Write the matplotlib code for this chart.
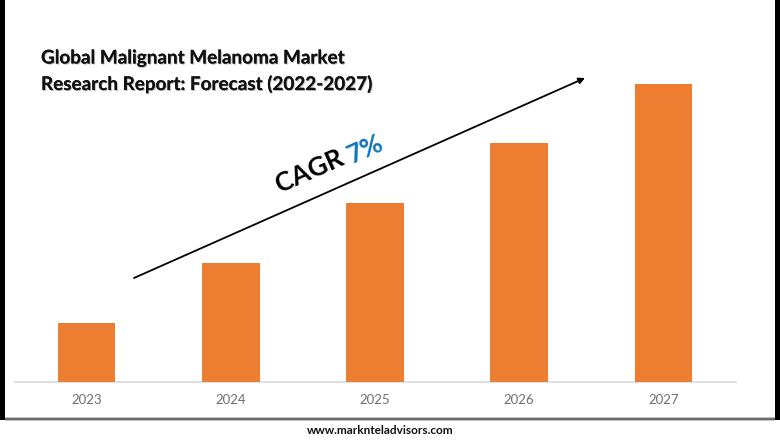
import matplotlib
matplotlib.use("Agg")
import matplotlib.pyplot as plt
import matplotlib.patheffects as pe
from matplotlib.patches import Rectangle

years = ["2023", "2024", "2025", "2026", "2027"]
values = [1.0, 2.02, 3.03, 4.05, 5.05]
title_lines = ["Global Malignant Melanoma Market", "Research Report: Forecast (2022-2027)"]
source = "www.marknteladvisors.com"

W, H = 780, 440
plt.rcParams["font.family"] = ["Lato", "DejaVu Sans"]
fig = plt.figure(figsize=(W / 100, H / 100), dpi=100, facecolor="white")

# chart axes: baseline at y=382 px, spans x=14.5..735.5 px
ax = fig.add_axes([14.5 / W, (H - 382) / H, 721 / W, 322 / H])
ax.bar(years, values, width=0.4, color="#ED7D31", zorder=3)
ax.set_xlim(-0.5, 4.5)
ax.set_ylim(0, 322 / 59)
ax.set_yticks([])
for s in ["top", "left", "right"]:
    ax.spines[s].set_visible(False)
ax.spines["bottom"].set_color("#D9D9D9")
ax.spines["bottom"].set_linewidth(1.2)
ax.tick_params(axis="x", length=0, pad=8.3, labelsize=9.5, labelcolor="#6E6E6E")
ax.patch.set_alpha(0)

# overlay in pixel coordinates
ov = fig.add_axes([0, 0, 1, 1], facecolor="none")
ov.set_xlim(0, W)
ov.set_ylim(H, 0)
ov.axis("off")

shadow = [pe.withSimplePatchShadow(offset=(0.7, -0.7), shadow_rgbFace="#888888", alpha=0.6), pe.Normal()]
ov.text(41, 58, title_lines[0], fontsize=13.6, fontweight="bold", color="#111111", va="center", ha="left", path_effects=shadow)
ov.text(41, 84, title_lines[1], fontsize=13.6, fontweight="bold", color="#111111", va="center", ha="left", path_effects=shadow)

ov.annotate("", xy=(585, 78), xytext=(134, 278),
            arrowprops=dict(arrowstyle="-|>", color="black", lw=1.3, mutation_scale=9, shrinkA=0, shrinkB=0))

ov.text(310, 171, "CAGR", fontsize=19, fontweight="bold", color="black", rotation=24,
        rotation_mode="anchor", ha="center", va="center")
ov.text(365, 149, "7%", fontsize=19, fontweight="bold", color="#0F75BC", rotation=24,
        rotation_mode="anchor", ha="center", va="center")

ov.text(380, 431, source, fontsize=8.5, fontweight="bold", color="#111111", ha="center", va="center")

# frame of the picture
ov.add_patch(Rectangle((0, 0), 5, 420, color="black", lw=0))
ov.add_patch(Rectangle((775, 0), 5, 420, color="black", lw=0))
ov.add_patch(Rectangle((5, 417), 770, 4, color="#C4C4C4", lw=0))
ov.add_patch(Rectangle((5, 418), 770, 2, color="#6A6A6A", lw=0))

fig.savefig("out.png", dpi=100)
